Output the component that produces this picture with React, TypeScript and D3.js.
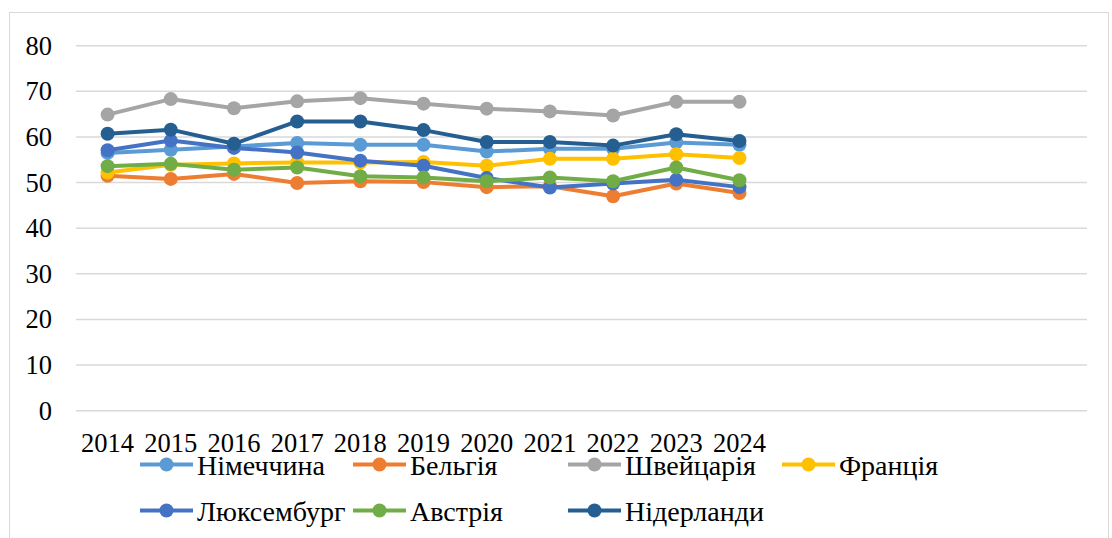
import * as d3 from "d3";

// Years shown on the category axis; the axis keeps 16 slots, the rest are empty
const years = ["2014", "2015", "2016", "2017", "2018", "2019", "2020", "2021", "2022", "2023", "2024"];
const slotCount = 16;
const yTicks = [0, 10, 20, 30, 40, 50, 60, 70, 80];

const germany = [56.5, 57.2, 57.9, 58.7, 58.3, 58.3, 56.8, 57.4, 57.4, 58.8, 58.3];
const belgium = [51.5, 50.8, 51.9, 49.9, 50.3, 50.1, 49.0, 49.2, 47.0, 49.8, 47.7];
const switzerland = [64.9, 68.3, 66.3, 67.8, 68.5, 67.3, 66.2, 65.6, 64.7, 67.7, 67.7];
const france = [52.2, 53.9, 54.2, 54.4, 54.4, 54.5, 53.7, 55.2, 55.2, 56.2, 55.4];
const luxembourg = [57.1, 59.2, 57.6, 56.6, 54.8, 53.7, 51.0, 48.9, 49.8, 50.6, 49.0];
const austria = [53.6, 54.1, 52.8, 53.3, 51.4, 51.1, 50.3, 51.1, 50.3, 53.3, 50.5];
const netherlands = [60.7, 61.6, 58.5, 63.4, 63.4, 61.5, 58.9, 58.9, 58.1, 60.6, 59.1];

const seriesNames = ["Німеччина", "Бельгія", "Швейцарія", "Франція", "Люксембург", "Австрія", "Нідерланди"];
const seriesValues = [germany, belgium, switzerland, france, luxembourg, austria, netherlands];
const seriesColors = ["#5B9BD5", "#ED7D31", "#A5A5A5", "#FFC000", "#4472C4", "#70AD47", "#255E91"];

const W = 1112;
const H = 538;
const textStyle = {fontFamily: '"Liberation Serif"'};

export default function App() {
    const plot = {left: 76, right: 1087, top: 45.7, bottom: 410.7};

    const x = d3
        .scaleBand<number>()
        .domain(d3.range(slotCount))
        .range([plot.left, plot.right]);
    const cx = (i: number) => (x(i) ?? 0) + x.bandwidth() / 2;

    const y = d3.scaleLinear().domain([0, 80]).range([plot.bottom, plot.top]);

    const line = d3
        .line<number>()
        .x((_, i) => cx(i))
        .y((d) => y(d));

    // legend layout: 4 columns, 2 rows
    const legendCols = [140, 353, 568, 782];
    const legendRows = [464.5, 510.5];

    return (
        <svg
            width={W}
            height={H}
            style={{position: "absolute", left: 0, top: 0, background: "#fff"}}
        >
            <rect x={9.5} y={12.5} width={1099} height={540} fill="none" stroke="#D9D9D9" strokeWidth={1} />

            {/* gridlines + y labels */}
            {yTicks.map((t) => (
                <g key={t}>
                    <line x1={plot.left} x2={plot.right} y1={y(t)} y2={y(t)} stroke="#D9D9D9" strokeWidth={1.5} />
                    <text x={52} y={y(t)} dy="0.34em" textAnchor="end" fontSize={26.5} fill="#000" style={textStyle}>
                        {t}
                    </text>
                </g>
            ))}

            {/* x labels */}
            {years.map((yr, i) => (
                <text key={yr} x={cx(i)} y={452} textAnchor="middle" fontSize={26.5} fill="#000" style={textStyle}>
                    {yr}
                </text>
            ))}

            {/* series */}
            {seriesValues.map((vals, s) => (
                <g key={seriesNames[s]}>
                    <path d={line(vals) ?? ""} fill="none" stroke={seriesColors[s]} strokeWidth={4} strokeLinejoin="round" />
                    {vals.map((v, i) => (
                        <circle key={i} cx={cx(i)} cy={y(v)} r={7} fill={seriesColors[s]} />
                    ))}
                </g>
            ))}

            {/* legend */}
            {seriesNames.map((name, s) => {
                const lx = legendCols[s % 4];
                const ly = legendRows[Math.floor(s / 4)];
                return (
                    <g key={name}>
                        <line x1={lx} x2={lx + 53} y1={ly} y2={ly} stroke={seriesColors[s]} strokeWidth={4} />
                        <circle cx={lx + 26.5} cy={ly} r={7} fill={seriesColors[s]} />
                        <text x={lx + 57} y={ly + 10.5} fontSize={28} fill="#000" style={textStyle}>
                            {name}
                        </text>
                    </g>
                );
            })}
        </svg>
    );
}
